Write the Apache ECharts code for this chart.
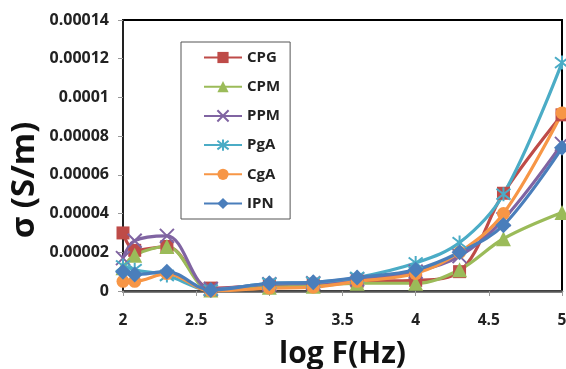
<!DOCTYPE html>
<html><head><meta charset="utf-8">
<script src="https://cdn.jsdelivr.net/npm/echarts@6/dist/echarts.min.js"></script>
<style>html,body{margin:0;padding:0;background:#fff}#c{width:566px;height:369px}</style>
</head><body><div id="c"></div>
<script>
const logF = [2, 2.08, 2.3, 2.6, 3, 3.3, 3.6, 4, 4.3, 4.6, 5];
const CPG = [3.0e-5, 2.1e-5, 2.3e-5, 1.5e-6, 3e-6, 3.5e-6, 5e-6, 5.5e-6, 1.0e-5, 5.05e-5, 9.1e-5];
const CPM = [1.2e-5, 1.85e-5, 2.3e-5, 5e-7, 2e-6, 2.5e-6, 4e-6, 4e-6, 1.1e-5, 2.7e-5, 4.05e-5];
const PPM = [1.7e-5, 2.6e-5, 2.85e-5, 1e-6, 3.5e-6, 4e-6, 6e-6, 1.0e-5, 1.8e-5, 3.7e-5, 7.6e-5];
const PgA = [1.3e-5, 1.1e-5, 8e-6, 5e-7, 4e-6, 4.5e-6, 7e-6, 1.45e-5, 2.5e-5, 5.0e-5, 1.18e-4];
const CgA = [5e-6, 5e-6, 9e-6, 0, 1.5e-6, 2e-6, 5e-6, 9e-6, 2.0e-5, 4.0e-5, 9.2e-5];
const IPN = [1.0e-5, 8.5e-6, 1.0e-5, 5e-7, 4e-6, 4.5e-6, 7e-6, 1.1e-5, 2.0e-5, 3.4e-5, 7.4e-5];
const yTicks = ['0', '0.00002', '0.00004', '0.00006', '0.00008', '0.0001', '0.00012', '0.00014'];
const xTicks = ['2', '2.5', '3', '3.5', '4', '4.5', '5'];

const FONT = '"Open Sans", Lato, sans-serif';
const pair = ys => logF.map((x, i) => [x, ys[i]]);
const crossPath = 'path://M0 0 L10 10 M10 0 L0 10';
const starPath = 'path://M0 0 L10 10 M10 0 L0 10 M5 -1.5 L5 11.5';
function mk(name, data, color, symbol, size, stroke) {
  return {
    name, type: 'line', data: pair(data), smooth: 0.35,
    symbol, symbolSize: size,
    lineStyle: { color, width: 3.2 },
    itemStyle: stroke ? { color, borderColor: color, borderWidth: 2 } : { color },
    emphasis: { disabled: true }
  };
}
const chart = echarts.init(document.getElementById('c'), null, { renderer: 'canvas' });
chart.setOption({
  animation: false,
  grid: { left: 123, right: 4, top: 20, bottom: 78, show: true, borderColor: '#000', borderWidth: 2,
    containLabel: false, outerBoundsMode: 'none' },
  legend: {
    orient: 'vertical', left: 181, top: 42,
    padding: [8, 10, 8, 22], itemGap: 14.2, itemWidth: 38, itemHeight: 14,
    borderColor: '#555', borderWidth: 1,
    textStyle: { fontFamily: FONT, fontWeight: 'bold', fontSize: 15, color: '#222' },
    data: ['CPG', 'CPM', 'PPM', 'PgA', 'CgA', 'IPN']
  },
  xAxis: {
    type: 'value', min: 2, max: 5, interval: 0.5,
    name: 'log F(Hz)', nameLocation: 'middle', nameGap: 48,
    nameTextStyle: { fontFamily: FONT, fontWeight: 'bold', fontSize: 30, color: '#111' },
    axisLine: { show: true, lineStyle: { color: '#555', width: 2.5 } },
    axisTick: { show: true, inside: false, length: 5, lineStyle: { color: '#999' } },
    splitLine: { show: false },
    axisLabel: { margin: 22, fontFamily: FONT, fontWeight: 'bold', fontSize: 15.5, color: '#222',
      formatter: v => xTicks[Math.round((v - 2) / 0.5)] }
  },
  yAxis: {
    type: 'value', min: 0, max: 0.00014, interval: 0.00002,
    axisLine: { show: true, lineStyle: { color: '#222', width: 2 } },
    axisTick: { show: true, inside: false, length: 5, lineStyle: { color: '#999' } },
    splitLine: { show: false },
    axisLabel: { margin: 14, fontFamily: FONT, fontWeight: 'bold', fontSize: 16, color: '#222',
      formatter: v => yTicks[Math.round(v / 0.00002)] }
  },
  graphic: [{
    type: 'text', x: 25, y: 180, rotation: Math.PI / 2,
    style: { text: 'σ (S/m)', font: 'bold 33px ' + FONT, fill: '#111', align: 'center', verticalAlign: 'middle' }
  }],
  series: [
    mk('CPG', CPG, '#BE4B48', 'rect', 13),
    mk('CPM', CPM, '#9BBB59', 'triangle', 15),
    mk('PPM', PPM, '#8064A2', crossPath, 14, true),
    mk('PgA', PgA, '#4BACC6', starPath, 14, true),
    mk('CgA', CgA, '#F79646', 'circle', 13),
    mk('IPN', IPN, '#4A7EBB', 'diamond', 16)
  ]
});
</script></body></html>
